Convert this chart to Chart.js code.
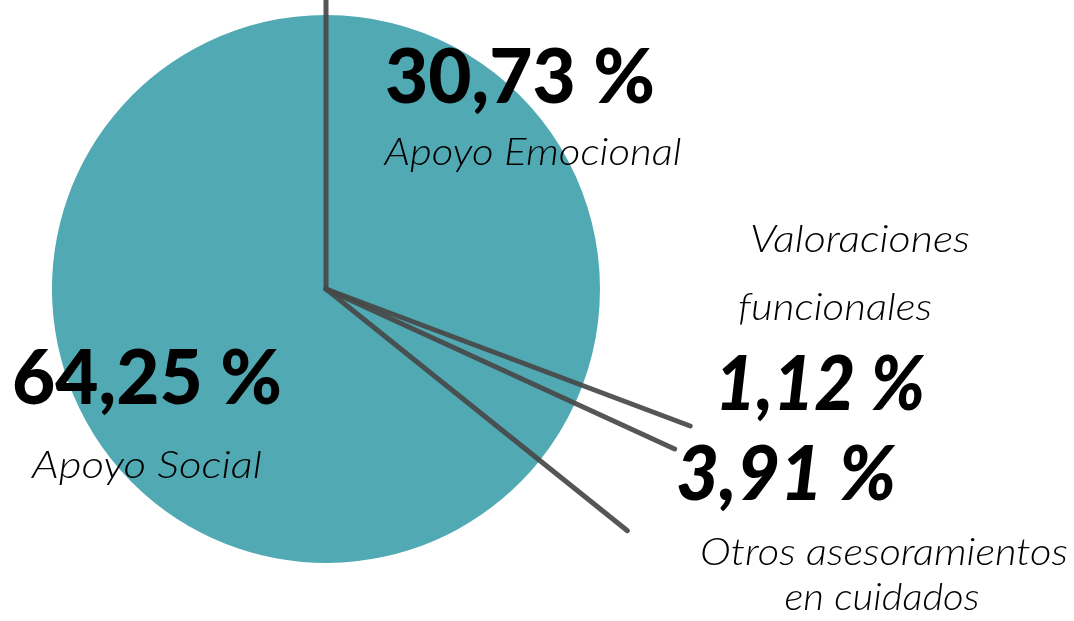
<!DOCTYPE html>
<html>
<head>
<meta charset="utf-8">
<script src="https://cdn.jsdelivr.net/npm/chart.js@4"></script>
<style>
  html, body { margin: 0; padding: 0; background: #fff; }
  #wrap { width: 1074px; height: 621px; position: relative; }
</style>
</head>
<body>
<div id="wrap"><canvas id="pieChart"></canvas></div>
<script>
// Chart data
const categories = ['Apoyo Emocional', 'Valoraciones funcionales', 'Otros asesoramientos en cuidados', 'Apoyo Social'];
const categoryLines = [['Apoyo Emocional'], ['Valoraciones', 'funcionales'], ['Otros asesoramientos', 'en cuidados'], ['Apoyo Social']];
const percentages = [30.73, 1.12, 3.91, 64.25];

const sliceColor = '#51aab3';
const strokeColor = 'rgba(72, 72, 72, 0.92)';

function formatPct(v) {
    return v.toFixed(2).replace('.', ',') + ' %';
}

// draws text stretched to a given width, centered on cx
function fitText(ctx, text, cx, y, width, font) {
    ctx.save();
    ctx.font = font;
    const w = ctx.measureText(text).width;
    ctx.translate(cx, y);
    ctx.scale(width / w, 1);
    ctx.textAlign = 'center';
    ctx.textBaseline = 'alphabetic';
    ctx.fillText(text, 0, 0);
    ctx.restore();
}

// pencil lines along the slice edges plus the text labels
const sketchPlugin = {
    id: 'sketch',
    afterDatasetsDraw(chart, args, opts) {
        const ctx = chart.ctx;
        const arcs = chart.getDatasetMeta(0).data;

        ctx.save();
        ctx.strokeStyle = strokeColor;
        ctx.lineWidth = 5;
        ctx.lineCap = 'round';
        arcs.forEach((arc, i) => {
            const a = arc.startAngle;
            const len = arc.outerRadius * opts.lineReach[i];
            ctx.beginPath();
            ctx.moveTo(arc.x, arc.y);
            ctx.lineTo(arc.x + Math.cos(a) * len, arc.y + Math.sin(a) * len);
            ctx.stroke();
        });
        ctx.restore();

        ctx.save();
        ctx.fillStyle = '#000';
        percentages.forEach((v, i) => {
            const lay = opts.layout[i];
            fitText(ctx, formatPct(v), lay.value.cx, lay.value.y, lay.value.w,
                (lay.value.italic ? 'italic ' : '') + '900 76px Lato');
            categoryLines[i].forEach((line, j) => {
                const l = lay.lines[j];
                fitText(ctx, line, l.cx, l.y, l.w, 'italic 300 38px Lato');
            });
        });
        ctx.restore();
    }
};

const ctx = document.getElementById('pieChart');

new Chart(ctx, {
    type: 'pie',
    data: {
        labels: categories,
        datasets: [{
            data: percentages,
            backgroundColor: sliceColor,
            borderWidth: 0,
            hoverOffset: 0
        }]
    },
    options: {
        responsive: true,
        maintainAspectRatio: false,
        animation: false,
        layout: { padding: { left: 52, right: 474, top: 15, bottom: 58 } },
        plugins: {
            legend: { display: false },
            tooltip: { enabled: false },
            sketch: {
                lineReach: [1.1, 1.42, 1.4, 1.41],
                layout: [
                    { value: { cx: 520, y: 103, w: 270 },
                      lines: [{ cx: 533, y: 165, w: 297 }] },
                    { value: { cx: 820, y: 410, w: 210, italic: true },
                      lines: [{ cx: 860, y: 252, w: 220 }, { cx: 835, y: 320, w: 194 }] },
                    { value: { cx: 786, y: 500, w: 220, italic: true },
                      lines: [{ cx: 884, y: 565, w: 368 }, { cx: 882, y: 610, w: 195 }] },
                    { value: { cx: 147, y: 404, w: 270 },
                      lines: [{ cx: 147, y: 478, w: 230 }] }
                ]
            }
        }
    },
    plugins: [sketchPlugin]
});
</script>
</body>
</html>
